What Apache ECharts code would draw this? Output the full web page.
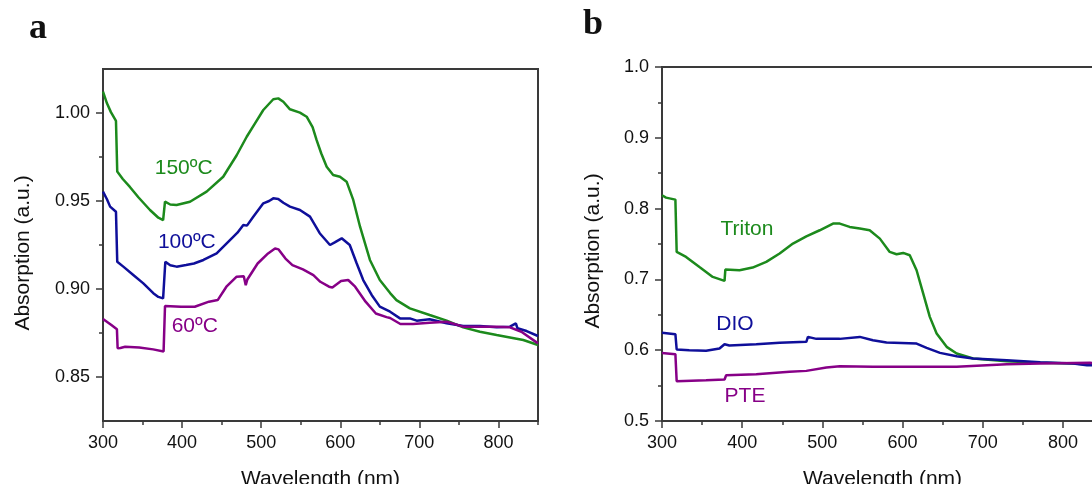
<!DOCTYPE html>
<html>
<head>
<meta charset="utf-8">
<script src="https://cdn.jsdelivr.net/npm/echarts@6/dist/echarts.min.js"></script>
<style>
html,body{margin:0;padding:0;background:#fff;}
#chart{width:1092px;height:484px;}
</style>
</head>
<body>
<div id="chart"></div>
<script>
// ---------- Panel a : annealing temperature ----------
const wlA150 = [300,305,310,316.4,317.5,318,325,334,345,359.4,370,376,377.5,378.4,385,393,410,431,452,469,481.7,492,502.7,515.3,521.6,528,536.4,549,557.5,565,570,576,582.8,591,599.6,608,616.4,625,637.5,650,663,671,688,713,734.5,755.5,776.6,797.7,814.5,831.4,850];
const absA150 = [1.0121,1.0055,1.0005,0.9955,0.995,0.9667,0.9625,0.958,0.952,0.9449,0.9405,0.9392,0.9385,0.9496,0.948,0.9477,0.9496,0.9553,0.9638,0.976,0.9865,0.994,1.0017,1.0078,1.0083,1.0064,1.0021,1.0002,0.9979,0.992,0.9847,0.977,0.9695,0.9648,0.9638,0.961,0.9506,0.9354,0.9165,0.9051,0.8977,0.8937,0.889,0.8852,0.882,0.8782,0.8757,0.8739,0.8725,0.871,0.8682];

const wlA100 = [300,305,309,316.4,317.5,318,325.7,338.3,351,363.6,370,376,377.5,378.8,385,393,405,415,427,443.7,460.5,470,477.4,482,490,502.7,510,515.3,521.6,528,536.4,549,561.7,574,587,593,601.8,612,620.7,629,639.7,650,663,675.5,688,696.6,713,734.5,755.5,776.6,797.7,814.5,822,824,835.6,850];
const absA100 = [0.9553,0.951,0.9468,0.9439,0.9435,0.9155,0.9127,0.908,0.9032,0.8976,0.8955,0.8947,0.894,0.9155,0.9135,0.9127,0.9136,0.9145,0.9165,0.9203,0.9278,0.932,0.9364,0.936,0.9411,0.9487,0.950,0.9515,0.9512,0.949,0.9468,0.9449,0.9411,0.9317,0.925,0.9265,0.9288,0.925,0.9146,0.9051,0.8966,0.89,0.8871,0.8833,0.8833,0.882,0.8828,0.8805,0.879,0.879,0.8782,0.8786,0.8805,0.8777,0.8761,0.8733];

const wlA60 = [300,310.6,317.6,318.5,322,328,345.8,363.4,376.6,377.5,378.4,398.6,416,434,445,456,469,478,480.5,482.5,495.5,508.7,517.5,522,530.7,539.5,552.8,566,574.8,585.8,590,601,610,618.8,632,645,658.5,663,676,692,713,734.5,755.5,776.6,797.7,814.5,829,850];
const absA60 = [0.8829,0.8795,0.8771,0.8663,0.8665,0.8672,0.8668,0.8657,0.8645,0.8634,0.8903,0.8899,0.8899,0.8928,0.8937,0.9013,0.907,0.9073,0.9022,0.9054,0.9145,0.9202,0.923,0.9225,0.9173,0.9136,0.9111,0.9079,0.9041,0.9013,0.9009,0.9045,0.9051,0.9013,0.8928,0.8861,0.884,0.8835,0.8801,0.8801,0.8808,0.8814,0.8786,0.8786,0.8786,0.8782,0.8757,0.8691];

// ---------- Panel b : additives ----------
const wlTriton = [300,305,316.7,318.3,330,346.7,363.3,378,379,396.7,413,430,446.7,463.3,480,482,496.7,513.3,521.7,534,546.7,559,571.7,584,592.5,600.8,609,617.5,625.8,634,642.5,655,667.5,688,730,771.7,813,834,850];
const absTriton = [0.8188,0.8155,0.8127,0.7388,0.7318,0.7176,0.7035,0.6979,0.7139,0.713,0.7167,0.7247,0.7365,0.7506,0.7609,0.7591,0.7694,0.7788,0.7788,0.7741,0.7718,0.7694,0.7576,0.7388,0.7355,0.7374,0.7341,0.7129,0.68,0.6471,0.6235,0.6047,0.5953,0.5882,0.5845,0.5821,0.5812,0.5798,0.5805];

const wlDIO = [300,316.7,318.3,334,355,371.7,378,384,417.5,446.7,480,482,492.5,521.7,546.7,563,580,617.5,630,646.7,667.5,688,730,771.7,813,830,850];
const absDIO = [0.6245,0.6226,0.601,0.6,0.5991,0.6024,0.6085,0.6066,0.6085,0.6104,0.6118,0.6188,0.616,0.616,0.6188,0.6141,0.6108,0.6094,0.6033,0.5962,0.5915,0.5882,0.5859,0.5831,0.5812,0.5788,0.579];

const wlPTE = [300,316.7,318.3,355,378,380,417.5,459,480,505,521.7,563,605,667.5,730,771.7,834,850];
const absPTE = [0.5962,0.5944,0.5562,0.5576,0.5586,0.5647,0.5661,0.5694,0.5708,0.5755,0.5774,0.5765,0.5765,0.5765,0.5802,0.5812,0.5821,0.582];

// ---------- ticks ----------
const xMajor = [300,400,500,600,700,800];
const xMinor = [350,450,550,650,750,850];
const yMajorA = [0.85,0.90,0.95,1.00];
const yMinorA = [0.875,0.925,0.975];
const yMajorB = [0.5,0.6,0.7,0.8,0.9,1.0];
const yMinorB = [0.55,0.65,0.75,0.85,0.95];

// ---------- curve labels ----------
const labelsA = ['150ºC','100ºC','60ºC'];
const labelAX = [402,406,416];
const labelAY = [0.9687,0.9267,0.879];
const labelsB = ['Triton','DIO','PTE'];
const labelBX = [406,391,403.5];
const labelBY = [0.771,0.637,0.535];

const colors = ['#1c8a1c','#0f0f9a','#870087'];
const FONT = '"Liberation Sans", Arial, sans-serif';
const AX = '#3a3a3a';

const zip = (xs, ys) => xs.map((x, i) => [x, ys[i]]);

function xAxes(grid) {
  return [
    { gridIndex: grid, type: 'value', position: 'bottom', min: 300, max: 850,
      axisLine: { lineStyle: { color: AX, width: 2 } },
      axisTick: { customValues: xMajor, length: 7, lineStyle: { color: AX, width: 1.5 } },
      axisLabel: { customValues: xMajor, fontSize: 18, fontFamily: FONT, color: '#111', margin: 13 },
      splitLine: { show: false },
      name: 'Wavelength (nm)', nameLocation: 'middle', nameGap: 48,
      nameTextStyle: { fontSize: 21, fontFamily: FONT, color: '#111' } },
    { gridIndex: grid, type: 'value', position: 'bottom', offset: 0, min: 300, max: 850,
      axisLine: { show: false },
      axisTick: { customValues: xMinor, length: 4, lineStyle: { color: AX, width: 1.5 } },
      axisLabel: { show: false }, splitLine: { show: false } }
  ];
}
function yAxes(grid, min, max, major, minor, digits, gap, pad) {
  return [
    { gridIndex: grid, type: 'value', position: 'left', min: min, max: max,
      axisLine: { show: true, lineStyle: { color: AX, width: 2 } },
      axisTick: { show: true, customValues: major, length: 7, lineStyle: { color: AX, width: 1.5 } },
      axisLabel: { customValues: major, fontSize: 18, fontFamily: FONT, color: '#111', margin: 13,
                   formatter: v => v.toFixed(digits) },
      splitLine: { show: false },
      name: 'Absorption (a.u.)', nameLocation: 'middle', nameGap: gap,
      nameTextStyle: { fontSize: 21, fontFamily: FONT, color: '#111', padding: pad } },
    { gridIndex: grid, type: 'value', position: 'left', offset: 0, min: min, max: max,
      axisLine: { show: false },
      axisTick: { show: true, customValues: minor, length: 4, lineStyle: { color: AX, width: 1.5 } },
      axisLabel: { show: false }, splitLine: { show: false } }
  ];
}

function lineSeries(xi, yi, xs, ys, color) {
  return { type: 'line', xAxisIndex: xi, yAxisIndex: yi, data: zip(xs, ys),
           showSymbol: false, symbol: 'none', smooth: false,
           lineStyle: { color: color, width: 2.5 }, animation: false, z: 3 };
}
function labelSeries(xi, yi, names, xs, ys) {
  return { type: 'scatter', xAxisIndex: xi, yAxisIndex: yi, symbolSize: 0, animation: false, z: 5,
           itemStyle: { opacity: 1 },
           data: names.map((n, i) => ({ value: [xs[i], ys[i]], name: n,
             label: { show: true, position: 'inside', formatter: n, color: colors[i], opacity: 1,
                      textBorderWidth: 0, fontSize: 21, fontFamily: FONT } })) };
}

const chart = echarts.init(document.getElementById('chart'), null, { renderer: 'canvas' });
chart.setOption({
  backgroundColor: '#fff',
  animation: false,
  grid: [
    { left: 103, top: 69, width: 435, height: 352, outerBoundsMode: 'none', containLabel: false,
      show: true, borderColor: AX, borderWidth: 2, backgroundColor: 'transparent' },
    { left: 662, top: 67, width: 441, height: 354, outerBoundsMode: 'none', containLabel: false,
      show: true, borderColor: AX, borderWidth: 2, backgroundColor: 'transparent' }
  ],
  xAxis: [...xAxes(0), ...xAxes(1)],
  yAxis: [...yAxes(0, 0.825, 1.025, yMajorA, yMinorA, 2, 69, [0, 16, 0, 0]),
          ...yAxes(1, 0.5, 1.0, yMajorB, yMinorB, 1, 58, [0, 14, 0, 0])],
  graphic: [
    { type: 'text', left: 29, top: 11, style: { text: 'a', font: 'bold 36px "Liberation Serif", "DejaVu Serif", serif', fill: '#111' } },
    { type: 'text', left: 583, top: 7, style: { text: 'b', font: 'bold 36px "Liberation Serif", "DejaVu Serif", serif', fill: '#111' } }
  ],
  series: [
    lineSeries(0, 0, wlA150, absA150, colors[0]),
    lineSeries(0, 0, wlA100, absA100, colors[1]),
    lineSeries(0, 0, wlA60, absA60, colors[2]),
    labelSeries(0, 0, labelsA, labelAX, labelAY),
    lineSeries(2, 2, wlTriton, absTriton, colors[0]),
    lineSeries(2, 2, wlDIO, absDIO, colors[1]),
    lineSeries(2, 2, wlPTE, absPTE, colors[2]),
    labelSeries(2, 2, labelsB, labelBX, labelBY)
  ]
});
</script>
</body>
</html>
